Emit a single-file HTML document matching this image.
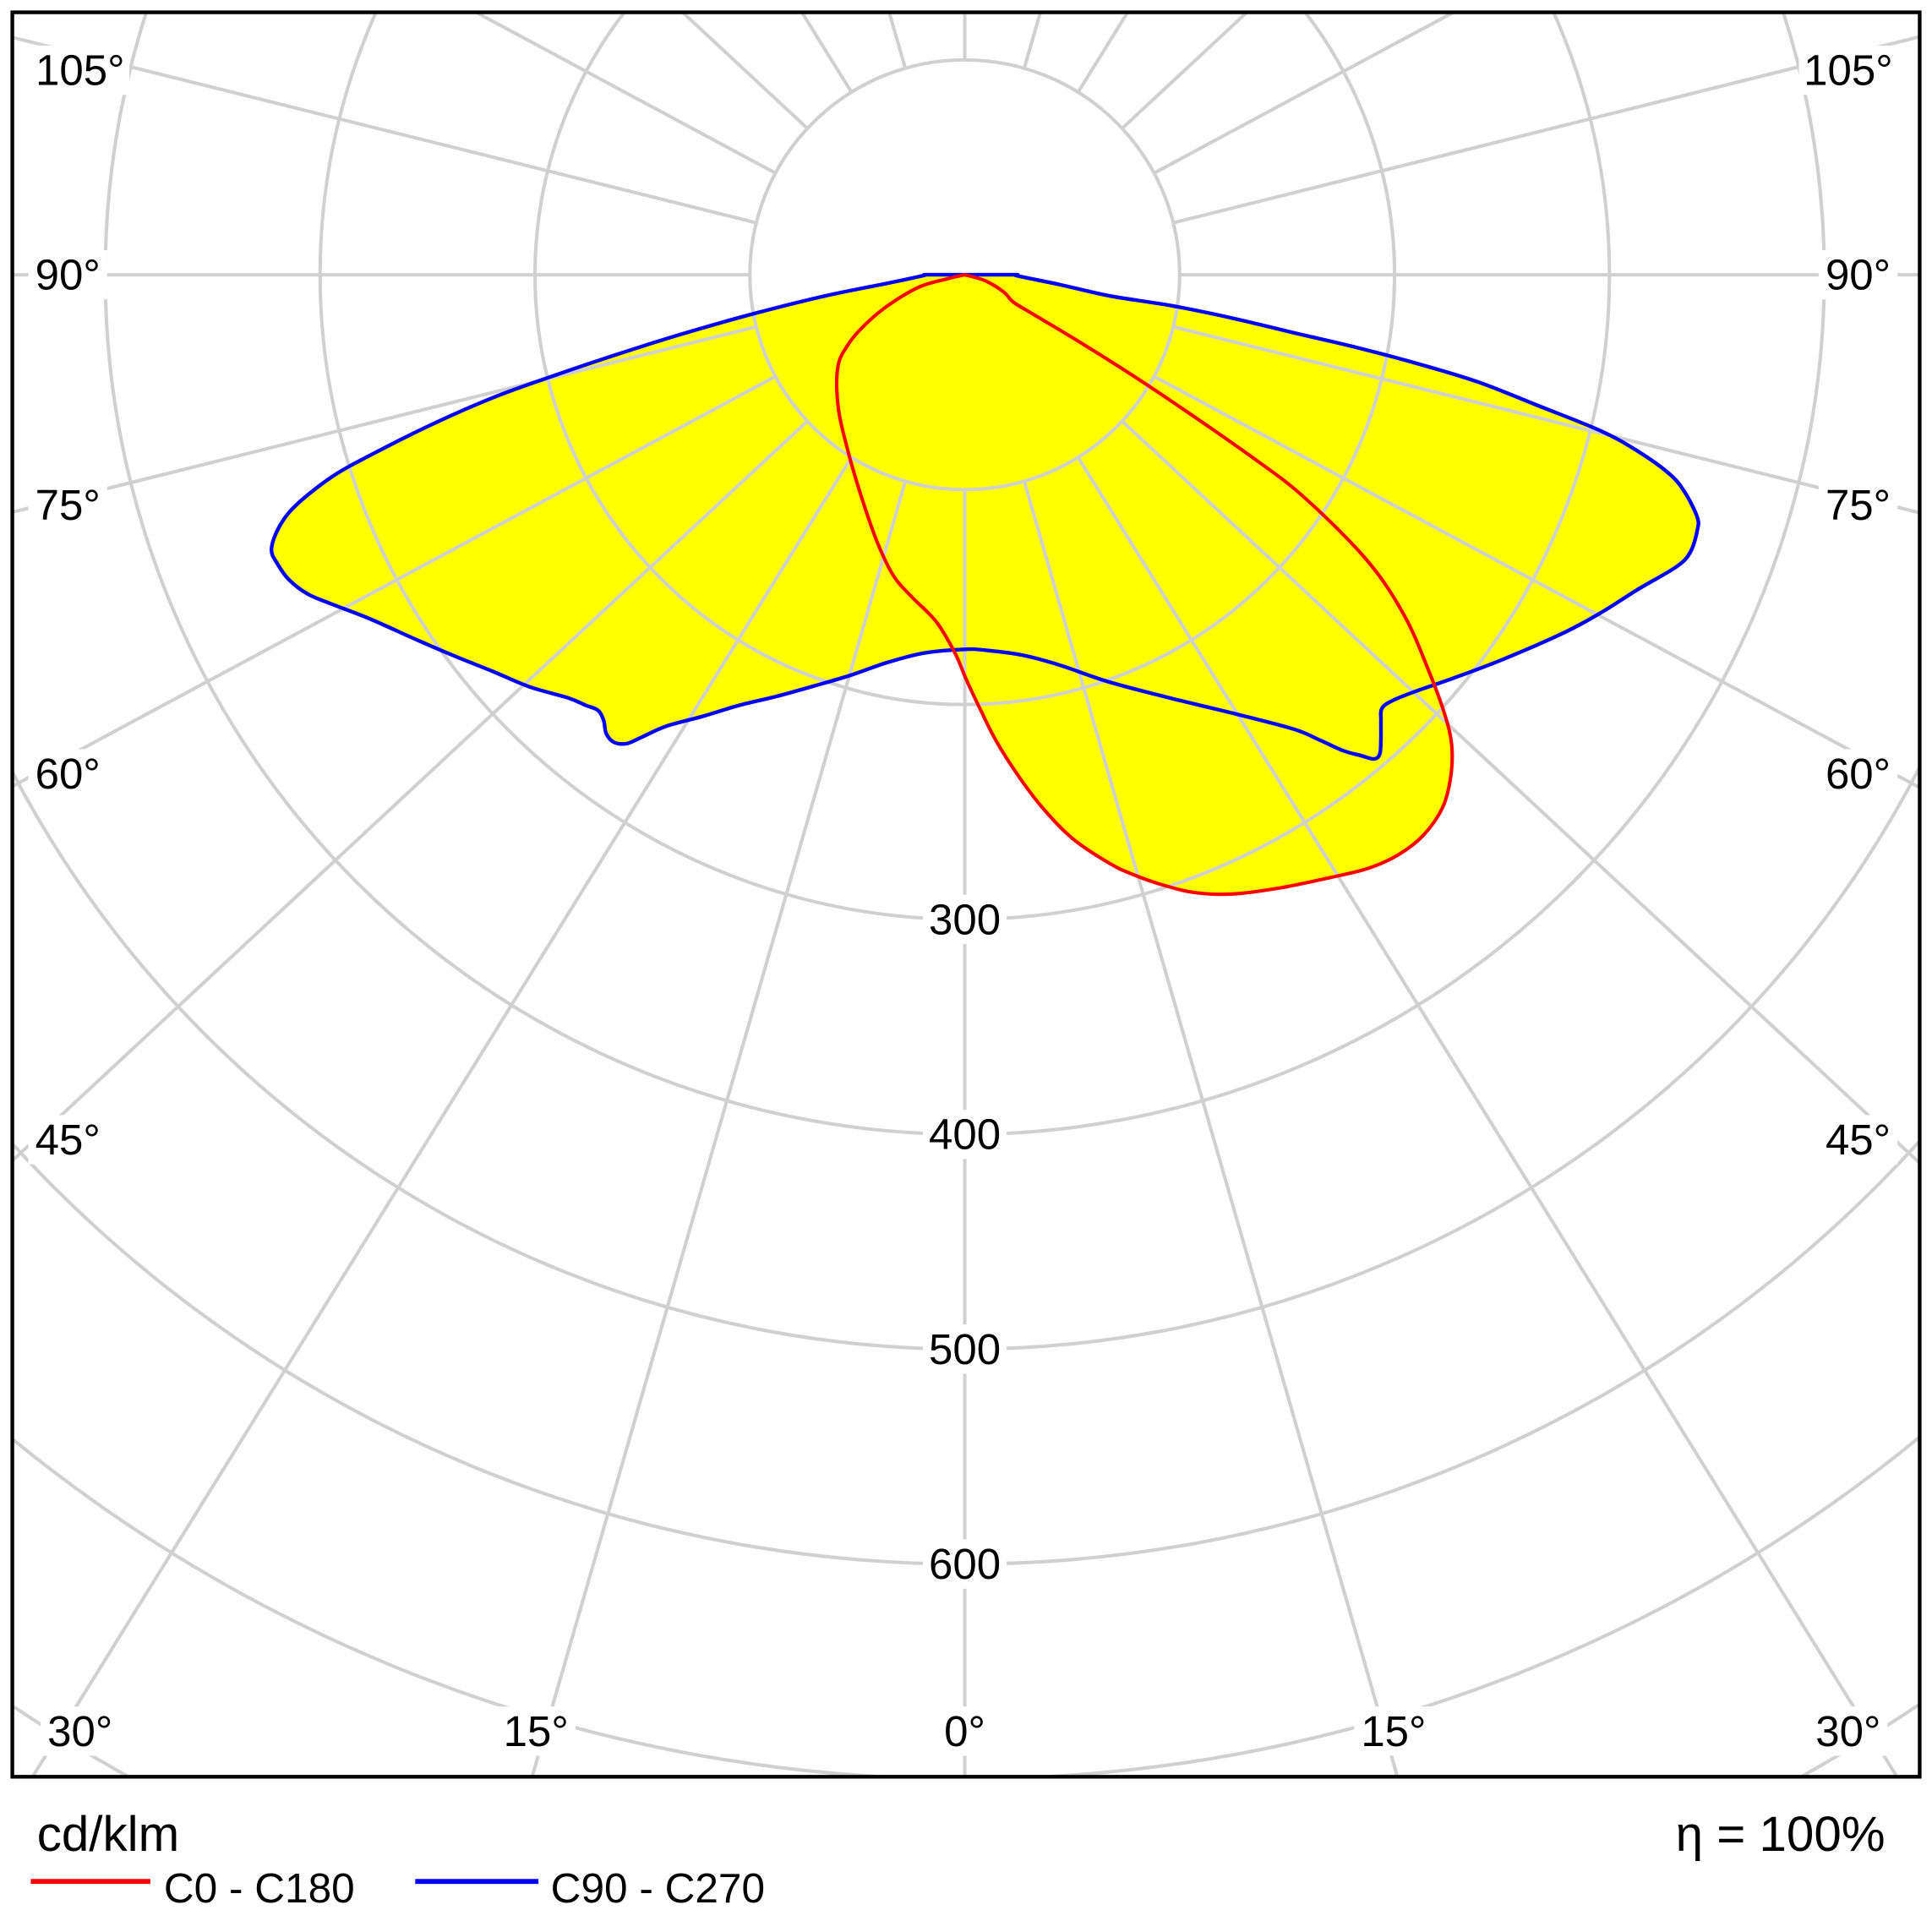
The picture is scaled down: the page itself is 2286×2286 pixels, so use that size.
<!DOCTYPE html>
<html><head><meta charset="utf-8"><style>
html,body{margin:0;padding:0;background:#fff;width:2286px;height:2286px;overflow:hidden;}
svg{display:block;}
text{font-family:"Liberation Sans",sans-serif;fill:#000;}
</style></head><body>
<svg id="chart" width="2286" height="2286" viewBox="0 0 1568 1568" xmlns="http://www.w3.org/2000/svg">
<defs><clipPath id="frameClip"><rect x="10" y="10" width="1548" height="1432"/></clipPath></defs>
<rect x="0" y="0" width="1568" height="1568" fill="#fff"/>
<g id="fills" clip-path="url(#frameClip)"></g>
<g id="grid" clip-path="url(#frameClip)"></g>
<g id="curves" clip-path="url(#frameClip)"></g>
<g id="labels"></g>
<rect x="10" y="10" width="1548" height="1432" fill="none" stroke="#000" stroke-width="3"/>
<text x="30" y="1502" font-size="40">cd/klm</text>
<text x="1530" y="1502" font-size="40" text-anchor="end">η = 100%</text>
<line x1="25" y1="1527" x2="122" y2="1527" stroke="#f00" stroke-width="4"/>
<text x="133" y="1544" font-size="34">C0 - C180</text>
<line x1="337" y1="1527" x2="437" y2="1527" stroke="#00f" stroke-width="4"/>
<text x="447" y="1544" font-size="34">C90 - C270</text>
</svg>
<script>
const redAngles=[-90,-77,-75,-68,-63,-59,-54,-43.9,-33.8,-24.5,-18.1,-13.3,-9.3,-4.7,-1.5,0.3,2,3.8,5.9,8.2,10.8,13.8,15.7,18.1,20.5,23.4,27.3,31.2,34.2,36.8,39.3,41.9,44.1,46,47.5,49.5,52.2,54.6,56.7,57.6,58.8,59.6,60,60.6,66,73.6,90];
const redValues=[0,7.7,22,39,53,63.5,73,85,98,115,131,144,152,162,176,189,202,217,233,250,267,282,290,299,307,314,321,328,334,337,337,333,325,315,303,284,259,230,190,158,102,64.5,38,26,20,10,0];
const blueAngles=[-90,-88.4,-83.7,-81.4,-79.5,-78.1,-77.1,-76.2,-75.4,-74.3,-73.1,-72.3,-71,-69.8,-68.4,-67.2,-65.7,-64.1,-62.5,-60,-56.2,-53.1,-50,-46.6,-43.2,-41.4,-40.1,-39,-38,-36.9,-35.8,-35,-33.5,-30.7,-27.6,-24.1,-20.2,-16,-11.3,-6.1,0,3.2,8.6,13.7,19.5,25.9,31.4,35.9,37.3,38.5,39.5,40.2,40.9,41.9,43,43.9,45.2,47.4,50.5,54.5,59.2,62.1,65,67.7,69.1,70.8,71.7,73.2,74.2,75.3,76.2,77.1,78.2,78.9,79.5,80,80.8,81.5,81.7,84.1,88.7,90];
const blueValues=[19,20,36.3,65.5,101,136.5,166,197,227,258,289.5,309,329,340,347,347,345,340,332,320,306,296,287,279,270,267,265,267,271,272,269,263,252,239,226,215,204,194,184,177,174.3,175,179,187,201,219,239,261,272,283,290,295,295,290,284,280,281,286,295,308,325,335.5,346,358,361.5,361,359,350,341,324,305,275,244,214.5,185,155.5,126,97,68,44.4,24.7,24.7];
const ringTicks=[300,400,500,600];
const ringLabels=["300","400","500","600"];

const NS="http://www.w3.org/2000/svg";
const cx=783, cy=223, k=1.744, gridStretch=1.075;
function px(a,v){return cx+v*k*Math.sin(a*Math.PI/180);}
function py(a,v){return cy+v*k*Math.cos(a*Math.PI/180);}
function mk(tag,attrs,parent){const e=document.createElementNS(NS,tag);for(const key in attrs)e.setAttribute(key,attrs[key]);parent.appendChild(e);return e;}
function pathFor(angles,values){
  const p=angles.map(function(a,i){return [px(a,values[i]),py(a,values[i])];});
  let d="M"+p[0][0].toFixed(2)+","+p[0][1].toFixed(2);
  for(let i=0;i<p.length-1;i++){
    const p0=p[Math.max(0,i-1)],p1=p[i],p2=p[i+1],p3=p[Math.min(p.length-1,i+2)];
    const c1x=p1[0]+(p2[0]-p0[0])/6,c1y=p1[1]+(p2[1]-p0[1])/6;
    const c2x=p2[0]-(p3[0]-p1[0])/6,c2y=p2[1]-(p3[1]-p1[1])/6;
    d+="C"+c1x.toFixed(2)+","+c1y.toFixed(2)+" "+c2x.toFixed(2)+","+c2y.toFixed(2)+" "+p2[0].toFixed(2)+","+p2[1].toFixed(2);
  }
  return d+"Z";
}

const fills=document.getElementById('fills');
const f1=mk('path',{d:pathFor(blueAngles,blueValues),fill:'#ffff00',stroke:'none'},fills);


const f2=mk('path',{d:pathFor(redAngles,redValues),fill:'#ffff00',stroke:'none'},fills);



const grid=document.getElementById('grid');
for(let n=1;n<=14;n++){
  const c=mk('circle',{cx:cx,cy:cy,r:n*100*k,fill:'none',stroke:'#d0d0d0','stroke-width':2.8},grid);
  
  
}
for(let a=-180;a<180;a+=15){
  const ux=gridStretch*Math.sin(a*Math.PI/180), uy=Math.cos(a*Math.PI/180);
  const m=Math.sqrt(ux*ux+uy*uy);
  const r0=100*k, r1=3000;
  const l=mk('line',{x1:cx+ux/m*r0,y1:cy+uy/m*r0,x2:cx+ux/m*r1,y2:cy+uy/m*r1,stroke:'#d0d0d0','stroke-width':2.8},grid);
  
  
}

const curves=document.getElementById('curves');
const b=mk('path',{d:pathFor(blueAngles,blueValues),fill:'none',stroke:'#0000ff','stroke-width':3,'stroke-linejoin':'round'},curves);


const r=mk('path',{d:pathFor(redAngles,redValues),fill:'none',stroke:'#ff0000','stroke-width':2.8,'stroke-linejoin':'round'},curves);



const labels=document.getElementById('labels');
function label(x,y,txt,name,w){
  const bg=mk('rect',{x:x-w/2,y:y-20,width:w,height:40,fill:'#fff'},labels);
  
  
  const t=mk('text',{x:x,y:y+12,'font-size':35,'text-anchor':'middle'},labels);
  t.textContent=txt;
  
  
}
for(let i=0;i<ringTicks.length;i++){label(cx,cy+ringTicks[i]*k,ringLabels[i],'ring-label-'+ringLabels[i],68);}
const angleLabels=[["0°",783,1405],["15°",435,1405],["15°",1131,1405],["30°",65,1405],["30°",1500,1405],
["45°",55,925],["45°",1508,925],["60°",55,628],["60°",1508,628],["75°",55,410],["75°",1508,410],
["90°",55,223],["90°",1508,223],["105°",65,57],["105°",1500,57]];
angleLabels.forEach(function(L){label(L[1],L[2],L[0],'angle-label-'+L[0].replace('°','')+'deg',L[0].length>3?80:64);});
</script>
</body></html>
